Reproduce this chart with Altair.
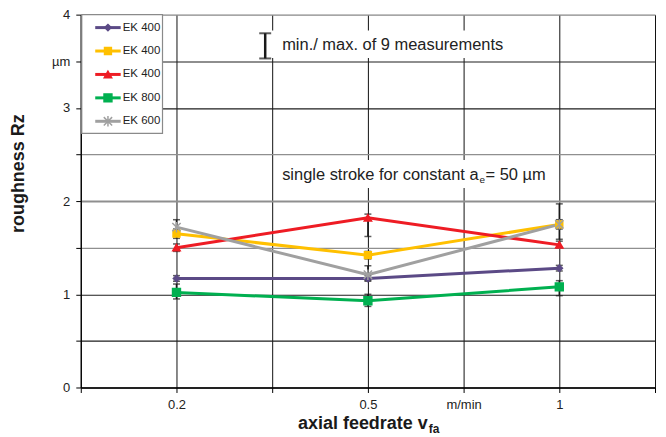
import altair as alt
import pandas as pd

# ---------------- data ----------------
series_ids = ["s1", "s2", "s3", "s4", "s5"]
marker_ids = ["p1", "p2", "p3", "p4", "p5"]
series_names = ["EK 400", "EK 400", "EK 400", "EK 800", "EK 600"]
series_colors = ["#5b4a86", "#ffc000", "#ee1c24", "#00b050", "#a0a0a0"]

feed_labels = ["0.2", "0.5", "1"]
feed_slots = [1, 3, 5]          # category slot on the axis
unit_slot = 4                   # slot carrying the unit label
unit_label = "m/min"

rz_mean = {
    "s1": [1.17, 1.17, 1.28],
    "s2": [1.65, 1.42, 1.75],
    "s3": [1.50, 1.82, 1.53],
    "s4": [1.02, 0.93, 1.08],
    "s5": [1.72, 1.21, 1.75],
}
rz_min = {
    "s1": [1.14, 1.14, 1.25],
    "s2": [1.60, 1.38, 1.59],
    "s3": [1.46, 1.62, 1.50],
    "s4": [0.95, 0.87, 0.985],
    "s5": [1.66, 1.15, 1.70],
}
rz_max = {
    "s1": [1.20, 1.20, 1.31],
    "s2": [1.70, 1.46, 1.97],
    "s3": [1.54, 1.86, 1.57],
    "s4": [1.11, 1.00, 1.146],
    "s5": [1.80, 1.306, 1.80],
}

rows = []
for k, sid in enumerate(series_ids):
    for i, lab in enumerate(feed_labels):
        rows.append({"sid": sid, "pid": marker_ids[k],
                     "slot": feed_slots[i], "feed": lab,
                     "rz": rz_mean[sid][i], "lo": rz_min[sid][i], "hi": rz_max[sid][i]})
df = pd.DataFrame(rows)

# ---------------- style ----------------
FONT = "Liberation Sans"
W, H = 576, 374

point_shapes = [
    "diamond", "square", "triangle-up", "square",
    "M-1,-1L1,1M-1,1L1,-1M0,-1.25L0,1.25",
]
point_sizes = [40, 70, 90, 100, 80]

color_scale = alt.Scale(domain=series_ids, range=series_colors)
shape_scale = alt.Scale(domain=marker_ids, range=point_shapes)
fill_scale = alt.Scale(domain=marker_ids, range=series_colors)
size_scale = alt.Scale(domain=marker_ids, range=point_sizes)

x_label_map = dict(zip(feed_slots, feed_labels))
x_label_map[unit_slot] = unit_label
x_expr = "''"
for k, v in sorted(x_label_map.items(), reverse=True):
    x_expr = f"datum.value == {k} ? '{v}' : ({x_expr})"

x_enc = alt.X(
    "slot:Q",
    scale=alt.Scale(domain=[0, 6], nice=False, zero=False),
    axis=alt.Axis(
        values=[0, 1, 2, 3, 4, 5, 6], labelExpr=x_expr, title=None,
        grid=True, gridColor="#111111", gridWidth=1,
        tickSize=5, tickColor="#000000", domainColor="#000000", domainWidth=1.5,
        labelFont=FONT, labelFontSize=13, labelColor="#222222", labelPadding=6,
    ),
)

y_axis = alt.Axis(
    values=[0, 0.5, 1, 1.5, 2, 2.5, 3, 3.5, 4],
    labelExpr="datum.value == 3.5 ? 'µm\u2002' : (datum.value % 1 == 0 ? format(datum.value, 'd') : '')",
    labelFont=FONT, labelFontSize=13,
    labelColor="#222222", labelPadding=6,
    tickSize=5, tickColor="#000000", domainColor="#000000", domainWidth=1.2,
    grid=True,
    gridColor={"condition": {"test": "datum.value == 1.5 || datum.value == 2 || datum.value == 2.5 || datum.value == 4",
                             "value": "#8f8f8f"}, "value": "#1e1e1e"},
    gridWidth={"condition": {"test": "datum.value == 2", "value": 2}, "value": 1.2},
    title="roughness Rz", titleFont=FONT, titleFontSize=18, titleFontWeight="bold",
    titleColor="#1a1a1a", titleAngle=270, titleX=-57, titleY=159,
    titleAlign="center", titleBaseline="alphabetic",
)
y_scale = alt.Scale(domain=[0, 4], nice=False, zero=True)

base = alt.Chart(df)

# white boxes behind annotation texts
box_df = pd.DataFrame({"x0": [1.84, 2.03], "x1": [4.62, 4.94], "y0": [3.535, 2.14], "y1": [3.83, 2.44]})
boxes = alt.Chart(box_df).mark_rect(fill="white").encode(
    x=alt.X("x0:Q"), x2="x1:Q", y=alt.Y("y0:Q"), y2="y1:Q")

# error bars
err_rule = base.mark_rule(color="#1a1a1a", strokeWidth=1.5).encode(
    x=x_enc, y=alt.Y("lo:Q", scale=y_scale, axis=y_axis), y2="hi:Q")
err_lo = base.mark_tick(orient="horizontal", size=7, thickness=1.5, color="#1a1a1a").encode(
    x="slot:Q", y="lo:Q")
err_hi = base.mark_tick(orient="horizontal", size=7, thickness=1.5, color="#1a1a1a").encode(
    x="slot:Q", y="hi:Q")

lines = base.mark_line(strokeWidth=3).encode(
    x="slot:Q", y=alt.Y("rz:Q"),
    color=alt.Color("sid:N", scale=color_scale, legend=None),
    order="slot:Q",
)

points = base.mark_point(filled=True, opacity=1, strokeWidth=1.5).encode(
    x="slot:Q", y="rz:Q",
    shape=alt.Shape("pid:N", scale=shape_scale, legend=None),
    fill=alt.Fill("pid:N", scale=fill_scale, legend=None),
    stroke=alt.Stroke("pid:N", scale=fill_scale, legend=None),
    size=alt.Size("pid:N", scale=size_scale, legend=None),
)

# ---------------- legend (drawn from the series lists) ----------------
LEG_TOP, LEG_STEP = 3.861, 0.2513        # row positions in axis units
legend_df = pd.DataFrame({
    "sid": series_ids, "pid": marker_ids, "name": series_names,
    "ly": [LEG_TOP - i * LEG_STEP for i in range(len(series_ids))],
})
legend_df["lx0"], legend_df["lx1"], legend_df["lxm"], legend_df["lxt"] = 0.151, 0.417, 0.284, 0.438
leg_box_df = pd.DataFrame({"x0": [0.0104], "x1": [0.854], "y0": [2.727], "y1": [4.0]})

leg_box = alt.Chart(leg_box_df).mark_rect(fill="white", stroke="#8a8a8a", strokeWidth=1.2).encode(
    x="x0:Q", x2="x1:Q", y="y0:Q", y2="y1:Q")
leg_lines = alt.Chart(legend_df).mark_rule(strokeWidth=3).encode(
    x="lx0:Q", x2="lx1:Q", y="ly:Q",
    color=alt.Color("sid:N", scale=color_scale, legend=None))
leg_marks = alt.Chart(legend_df).mark_point(filled=True, opacity=1, strokeWidth=1.5).encode(
    x="lxm:Q", y="ly:Q",
    shape=alt.Shape("pid:N", scale=shape_scale, legend=None),
    fill=alt.Fill("pid:N", scale=fill_scale, legend=None),
    stroke=alt.Stroke("pid:N", scale=fill_scale, legend=None),
    size=alt.Size("pid:N", scale=size_scale, legend=None),
)
leg_text = alt.Chart(legend_df).mark_text(align="left", baseline="middle", font=FONT, fontSize=11.5,
                                          color="#222222").encode(x="lxt:Q", y="ly:Q", text="name:N")

# annotation: min/max symbol + texts
ibar_df = pd.DataFrame({"x": [1.927], "lo": [3.53], "hi": [3.80]})
ibar = alt.Chart(ibar_df).mark_rule(color="#1a1a1a", strokeWidth=2.5).encode(x="x:Q", y="lo:Q", y2="hi:Q")
ibar_lo = alt.Chart(ibar_df).mark_tick(orient="horizontal", size=12, thickness=2, color="#1a1a1a").encode(x="x:Q", y="lo:Q")
ibar_hi = alt.Chart(ibar_df).mark_tick(orient="horizontal", size=12, thickness=2, color="#1a1a1a").encode(x="x:Q", y="hi:Q")

note1_df = pd.DataFrame({"x": [2.104], "y": [3.672], "t": ["min./ max. of 9 measurements"]})
note1 = alt.Chart(note1_df).mark_text(align="left", baseline="middle", font=FONT, fontSize=16.5, color="#222222").encode(
    x="x:Q", y="y:Q", text="t:N")

note2_df = pd.DataFrame({"x": [2.104], "y": [2.28]})
note2a = alt.Chart(note2_df).mark_text(align="left", baseline="middle", font=FONT, fontSize=16.5, color="#222222").encode(
    x="x:Q", y="y:Q", text=alt.value("single stroke for constant a"))
note2b = alt.Chart(note2_df).mark_text(align="left", baseline="middle", font=FONT, fontSize=10, color="#222222",
                                        dx=198, dy=5).encode(x="x:Q", y="y:Q", text=alt.value("e"))
note2c = alt.Chart(note2_df).mark_text(align="left", baseline="middle", font=FONT, fontSize=16.5, color="#222222",
                                        dx=204).encode(x="x:Q", y="y:Q", text=alt.value(" = 50 µm"))

# x-axis title with subscript
xt_main = alt.Chart(note2_df).mark_text(align="right", baseline="alphabetic", font=FONT, fontSize=18,
                                         fontWeight="bold", color="#1a1a1a").encode(
    x=alt.value(348), y=alt.value(416), text=alt.value("axial feedrate v"))
xt_sub = alt.Chart(note2_df).mark_text(align="left", baseline="alphabetic", font=FONT, fontSize=12,
                                        fontWeight="bold", color="#1a1a1a").encode(
    x=alt.value(349), y=alt.value(420), text=alt.value("fa"))

chart = alt.layer(
    err_rule, boxes, err_lo, err_hi, lines, points,
    leg_box, leg_lines, leg_marks, leg_text,
    ibar, ibar_lo, ibar_hi, note1, note2a, note2b, note2c, xt_main, xt_sub,
).properties(
    width=W, height=H,
    autosize=alt.AutoSizeParams(type="none"),
    padding={"left": 73, "top": 6, "right": 3, "bottom": 48},
).configure_view(stroke=None).configure(background="white")

chart.save("out.html", embed_options={"renderer": "svg", "actions": False})
